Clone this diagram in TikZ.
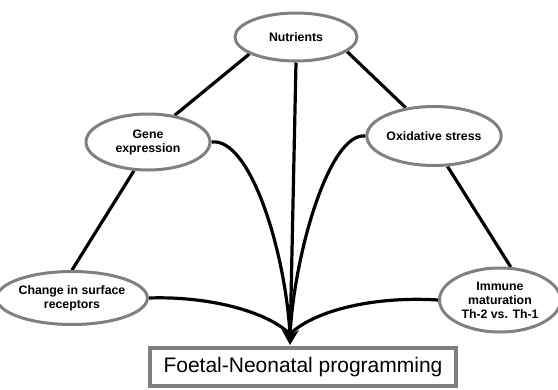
\documentclass[tikz,border=0pt]{standalone}
\usepackage{fontspec}
\setmainfont{Liberation Sans}
\usetikzlibrary{arrows.meta,shapes.geometric,backgrounds}
\definecolor{bordergray}{RGB}{128,128,128}
\begin{document}
\begin{tikzpicture}[x=1pt,y=-1pt,
  oval/.style={ellipse, draw=bordergray, line width=3pt, fill=white, inner sep=0pt,
    align=center, font=\fontsize{12.3}{14}\selectfont\bfseries},
  link/.style={line width=3.2pt, black},
  resultbox/.style={draw=bordergray, line width=4pt, fill=white, inner sep=0pt,
    minimum width=306pt, minimum height=38pt, font=\fontsize{21}{24}\selectfont}]
\useasboundingbox (0,0) rectangle (558,389);

\node[oval, minimum width=122pt, minimum height=48pt] (nut) at (296,37) {Nutrients};
\node[oval, minimum width=124pt, minimum height=56pt] (gene) at (148,142) {Gene\\expression};
\node[oval, minimum width=125pt, minimum height=59pt] (oxi) at (434,136) {Oxidative stress};
\node[oval, minimum width=124pt, minimum height=53pt] (chg) at (72,298) {Change in surface\\receptors};
\node[oval, minimum width=121pt, minimum height=64pt] (imm) at (500,300) {Immune\\maturation\\Th-2 vs. Th-1};
\node[resultbox] (prog) at (303,367) {Foetal-Neonatal programming};

\coordinate (tip) at (290,345);
\coordinate (conv) at (290,334);

\begin{scope}[on background layer]
  \fill[white] (0,0) rectangle (558,389);
  \draw[link] (nut.200) -- (gene.45);
  \draw[link] (nut.344) -- (oxi.135);
  \draw[link] (gene.244) -- (chg.90);
  \draw[link] (oxi.294) -- (imm.72);
  \draw[link] (gene.east) .. controls (250,137) and (285,250) .. (conv);
  \draw[link] (oxi.west) .. controls (330,132) and (295,250) .. (conv);
  \draw[link] (chg.east) .. controls (205,296) and (265,310) .. (conv);
  \draw[link] (imm.west) .. controls (375,296) and (315,310) .. (conv);
  \draw[link, -{Stealth[length=15pt,width=17pt,inset=5pt]}] (nut.south) -- (tip);
\end{scope}
\end{tikzpicture}
\end{document}
